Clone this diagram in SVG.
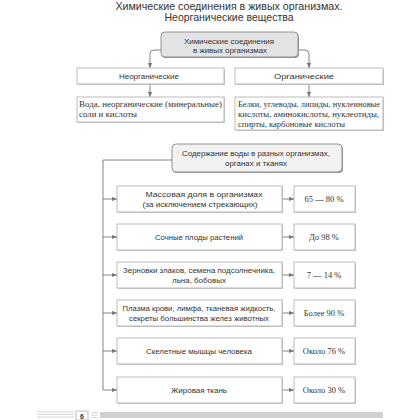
<svg xmlns="http://www.w3.org/2000/svg" width="420" height="420" viewBox="0 0 420 420">
<style>
.t{font-family:"Liberation Sans",Arial,sans-serif;fill:#333;}
.s{font-family:"Liberation Serif","Times New Roman",serif;fill:#333;}
.box{fill:#fff;stroke:#aaa;stroke-width:0.8;}
.sh{fill:#ccc;}
.rbox{stroke:#888;stroke-width:0.9;}
.ln{fill:none;stroke:#777;stroke-width:0.9;}
</style>
<defs>
<marker id="ah" viewBox="0 0 6 6" refX="6" refY="3" markerWidth="5" markerHeight="5" orient="auto" markerUnits="userSpaceOnUse">
<path d="M0,0.5 L6,3 L0,5.5 z" fill="#777"/>
</marker>
</defs>
<rect width="420" height="420" fill="#fff"/>
<g id="title">
<text class="t" x="229" y="10" font-size="11" text-anchor="middle" textLength="227" lengthAdjust="spacingAndGlyphs">Химические соединения в живых организмах.</text>
<text class="t" x="229" y="21" font-size="11" text-anchor="middle" textLength="129" lengthAdjust="spacingAndGlyphs">Неорганические вещества</text>
</g>
<g id="connectors">
<path class="ln" d="M161,50 H154 Q150,50 150,54 V68" marker-end="url(#ah)"/>
<path class="ln" d="M298,50 H305 Q309,50 309,54 V68" marker-end="url(#ah)"/>
<path class="ln" d="M150,84 V97" marker-end="url(#ah)"/>
<path class="ln" d="M309,84 V97" marker-end="url(#ah)"/>
<path class="ln" d="M172,160 H103 V390 H117" marker-end="url(#ah)"/>
<path class="ln" d="M103,199 H117" marker-end="url(#ah)"/>
<path class="ln" d="M103,237 H117" marker-end="url(#ah)"/>
<path class="ln" d="M103,275 H117" marker-end="url(#ah)"/>
<path class="ln" d="M103,313 H117" marker-end="url(#ah)"/>
<path class="ln" d="M103,351 H117" marker-end="url(#ah)"/>
<path class="ln" d="M282,199 H294" marker-end="url(#ah)"/>
<path class="ln" d="M282,237 H294" marker-end="url(#ah)"/>
<path class="ln" d="M282,275 H294" marker-end="url(#ah)"/>
<path class="ln" d="M282,313 H294" marker-end="url(#ah)"/>
<path class="ln" d="M282,351 H294" marker-end="url(#ah)"/>
<path class="ln" d="M282,390 H294" marker-end="url(#ah)"/>
</g>
<g id="n-chem">
<rect x="162" y="33" width="137" height="25" rx="4" fill="#999"/>
<rect class="rbox" x="161" y="32" width="137" height="25" rx="4" fill="#e3e3e3"/>
<text class="t" x="229" y="44" font-size="8" text-anchor="middle" textLength="90" lengthAdjust="spacingAndGlyphs">Химические соединения</text>
<text class="t" x="230" y="53" font-size="8" text-anchor="middle" textLength="74" lengthAdjust="spacingAndGlyphs">в живых организмах</text>
</g>
<g id="n-inorg">
<rect class="sh" x="78" y="69" width="147" height="16"/>
<rect class="box" x="77" y="68" width="147" height="16"/>
<text class="t" x="149" y="79" font-size="8" text-anchor="middle" textLength="60" lengthAdjust="spacingAndGlyphs">Неорганические</text>
</g>
<g id="n-org">
<rect class="sh" x="236" y="69" width="148" height="16"/>
<rect class="box" x="235" y="68" width="148" height="16"/>
<text class="t" x="304" y="79" font-size="8" text-anchor="middle" textLength="60" lengthAdjust="spacingAndGlyphs">Органические</text>
</g>
<g id="n-inorg-list">
<rect class="sh" x="78" y="98" width="147" height="25"/>
<rect class="box" x="77" y="97" width="147" height="25"/>
<text class="s" x="79" y="107" font-size="8" textLength="143" lengthAdjust="spacingAndGlyphs">Вода, неорганические (минеральные)</text>
<text class="s" x="79" y="117" font-size="8" textLength="58" lengthAdjust="spacingAndGlyphs">соли и кислоты</text>
</g>
<g id="n-org-list">
<rect class="sh" x="236" y="98" width="148" height="33"/>
<rect class="box" x="235" y="97" width="148" height="33"/>
<text class="s" x="238" y="107" font-size="8" textLength="142" lengthAdjust="spacingAndGlyphs">Белки, углеводы, липиды, нуклеиновые</text>
<text class="s" x="238" y="117" font-size="8" textLength="141" lengthAdjust="spacingAndGlyphs">кислоты, аминокислоты, нуклеотиды,</text>
<text class="s" x="238" y="127" font-size="8" textLength="107" lengthAdjust="spacingAndGlyphs">спирты, карбоновые кислоты</text>
</g>
<g id="n-water">
<rect x="173" y="145" width="170" height="28" rx="4" fill="#999"/>
<rect class="rbox" x="172" y="144" width="170" height="28" rx="4" fill="#f2f2f2"/>
<text class="t" x="256" y="156" font-size="8" text-anchor="middle" textLength="148" lengthAdjust="spacingAndGlyphs">Содержание воды в разных организмах,</text>
<text class="t" x="256" y="166" font-size="8" text-anchor="middle" textLength="62" lengthAdjust="spacingAndGlyphs">органах и тканях</text>
</g>
<g id="n-r1">
<rect class="sh" x="118" y="187" width="165" height="26"/>
<rect class="box" x="117" y="186" width="165" height="26"/>
<text class="t" x="204" y="197" font-size="8" text-anchor="middle" textLength="117" lengthAdjust="spacingAndGlyphs">Массовая доля в организмах</text>
<text class="t" x="200" y="207" font-size="8" text-anchor="middle" textLength="115" lengthAdjust="spacingAndGlyphs">(за исключением стрекающих)</text>
</g>
<g id="n-p1">
<rect class="sh" x="295" y="187" width="61" height="26"/>
<rect class="box" x="294" y="186" width="61" height="26"/>
<text class="s" x="324" y="202" font-size="8.5" text-anchor="middle">65 — 80 %</text>
</g>
<g id="n-r2">
<rect class="sh" x="118" y="225" width="165" height="26"/>
<rect class="box" x="117" y="224" width="165" height="26"/>
<text class="t" x="199" y="240" font-size="8" text-anchor="middle" textLength="88" lengthAdjust="spacingAndGlyphs">Сочные плоды растений</text>
</g>
<g id="n-p2">
<rect class="sh" x="295" y="225" width="61" height="26"/>
<rect class="box" x="294" y="224" width="61" height="26"/>
<text class="s" x="324" y="240" font-size="8.5" text-anchor="middle">До 98 %</text>
</g>
<g id="n-r3">
<rect class="sh" x="118" y="263" width="165" height="26"/>
<rect class="box" x="117" y="262" width="165" height="26"/>
<text class="t" x="199" y="273" font-size="8" text-anchor="middle" textLength="152" lengthAdjust="spacingAndGlyphs">Зерновки злаков, семена подсолнечника,</text>
<text class="t" x="199" y="283" font-size="8" text-anchor="middle" textLength="54" lengthAdjust="spacingAndGlyphs">льна, бобовых</text>
</g>
<g id="n-p3">
<rect class="sh" x="295" y="263" width="61" height="26"/>
<rect class="box" x="294" y="262" width="61" height="26"/>
<text class="s" x="324" y="278" font-size="8.5" text-anchor="middle">7 — 14 %</text>
</g>
<g id="n-r4">
<rect class="sh" x="118" y="301" width="165" height="26"/>
<rect class="box" x="117" y="300" width="165" height="26"/>
<text class="t" x="199" y="311" font-size="8" text-anchor="middle" textLength="153" lengthAdjust="spacingAndGlyphs">Плазма крови, лимфа, тканевая жидкость,</text>
<text class="t" x="199" y="321" font-size="8" text-anchor="middle" textLength="140" lengthAdjust="spacingAndGlyphs">секреты большинства желез животных</text>
</g>
<g id="n-p4">
<rect class="sh" x="295" y="301" width="61" height="26"/>
<rect class="box" x="294" y="300" width="61" height="26"/>
<text class="s" x="324" y="316" font-size="8.5" text-anchor="middle">Более 90 %</text>
</g>
<g id="n-r5">
<rect class="sh" x="118" y="339" width="165" height="26"/>
<rect class="box" x="117" y="338" width="165" height="26"/>
<text class="t" x="199" y="354" font-size="8" text-anchor="middle" textLength="106" lengthAdjust="spacingAndGlyphs">Скелетные мышцы человека</text>
</g>
<g id="n-p5">
<rect class="sh" x="295" y="339" width="61" height="26"/>
<rect class="box" x="294" y="338" width="61" height="26"/>
<text class="s" x="324" y="354" font-size="8.5" text-anchor="middle">Около 76 %</text>
</g>
<g id="n-r6">
<rect class="sh" x="118" y="378" width="165" height="26"/>
<rect class="box" x="117" y="377" width="165" height="26"/>
<text class="t" x="199" y="393" font-size="8" text-anchor="middle" textLength="56" lengthAdjust="spacingAndGlyphs">Жировая ткань</text>
</g>
<g id="n-p6">
<rect class="sh" x="295" y="378" width="61" height="26"/>
<rect class="box" x="294" y="377" width="61" height="26"/>
<text class="s" x="324" y="393" font-size="8.5" text-anchor="middle">Около 30 %</text>
</g>
<g id="footer">
<path d="M37,412 H74 M37,414.5 H74 M37,417 H74" stroke="#ccc" stroke-width="0.8"/>
<rect x="76" y="411" width="12" height="9" fill="#fff" stroke="#aaa" stroke-width="0.8"/>
<text class="t" x="82" y="418.5" font-size="7" text-anchor="middle" font-weight="bold">6</text>
<path d="M91,412.5 H98 M91,415 H98 M91,417.5 H98" stroke="#ccc" stroke-width="0.8"/>
<rect x="100" y="412" width="283" height="6" fill="#d0d0d0"/>
</g>
</svg>
